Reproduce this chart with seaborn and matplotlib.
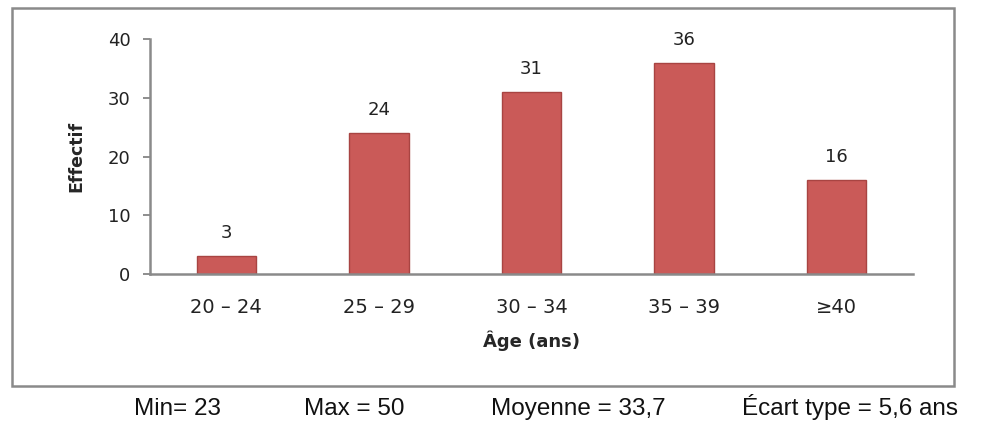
import matplotlib
matplotlib.use("Agg")
import matplotlib.pyplot as plt
import seaborn as sns
import pandas as pd
from matplotlib.patches import Rectangle

categories = ["20 – 24", "25 – 29", "30 – 34", "35 – 39", "≥40"]
effectifs = [3, 24, 31, 36, 16]
y_ticks = [0, 10, 20, 30, 40]
stats_labels = ["Min= 23", "Max = 50", "Moyenne = 33,7", "Écart type = 5,6 ans"]

sns.set_theme(style="white")
plt.rcParams['font.family'] = ['DejaVu Sans']

df = pd.DataFrame({"cat": categories, "val": effectifs})

fig = plt.figure(figsize=(9.84, 4.21), dpi=100)
ax = fig.add_axes([150/984, 1-274/421, (913-150)/984, (274-39)/421])

sns.barplot(data=df, x="cat", y="val", color="#CA5A58", width=0.39,
            edgecolor="#A84442", linewidth=1.0, saturation=1, ax=ax)

ax.set_ylim(0, 40)
ax.set_xlim(-0.5, 4.5)
ax.set_yticks(y_ticks)
ax.tick_params(axis='y', which='both', left=True, length=5, color="#808080",
               labelsize=13, colors="#222222", pad=9)
ax.tick_params(axis='x', bottom=False, labelsize=14, colors="#222222", pad=11)
for s in ["top", "right"]:
    ax.spines[s].set_visible(False)
for s in ["left", "bottom"]:
    ax.spines[s].set_color("#8a8a8a")
    ax.spines[s].set_linewidth(1.8)

for i, v in enumerate(effectifs):
    ax.annotate(str(v), (i, v), xytext=(0, 10), textcoords="offset points",
                ha="center", va="bottom", fontsize=13, color="#222222")

ax.set_ylabel("Effectif", fontsize=12.5, fontweight="bold", labelpad=16)
ax.set_xlabel("Âge (ans)", fontsize=13, fontweight="bold", labelpad=10)

# outer frame
frame = Rectangle((12/984, 1-386/421), (954-12)/984, (386-8)/421,
                  transform=fig.transFigure, fill=False, edgecolor="#8a8a8a",
                  linewidth=1.8)
fig.add_artist(frame)

xs = [178, 354, 578, 850]
for x, t in zip(xs, stats_labels):
    fig.text(x/984, 1-415/421, t, ha="center", va="baseline", fontsize=17.5,
             family=['Liberation Sans Narrow', 'Liberation Sans', 'DejaVu Sans'],
             color="#111111")

fig.savefig("out.png", dpi=100)
